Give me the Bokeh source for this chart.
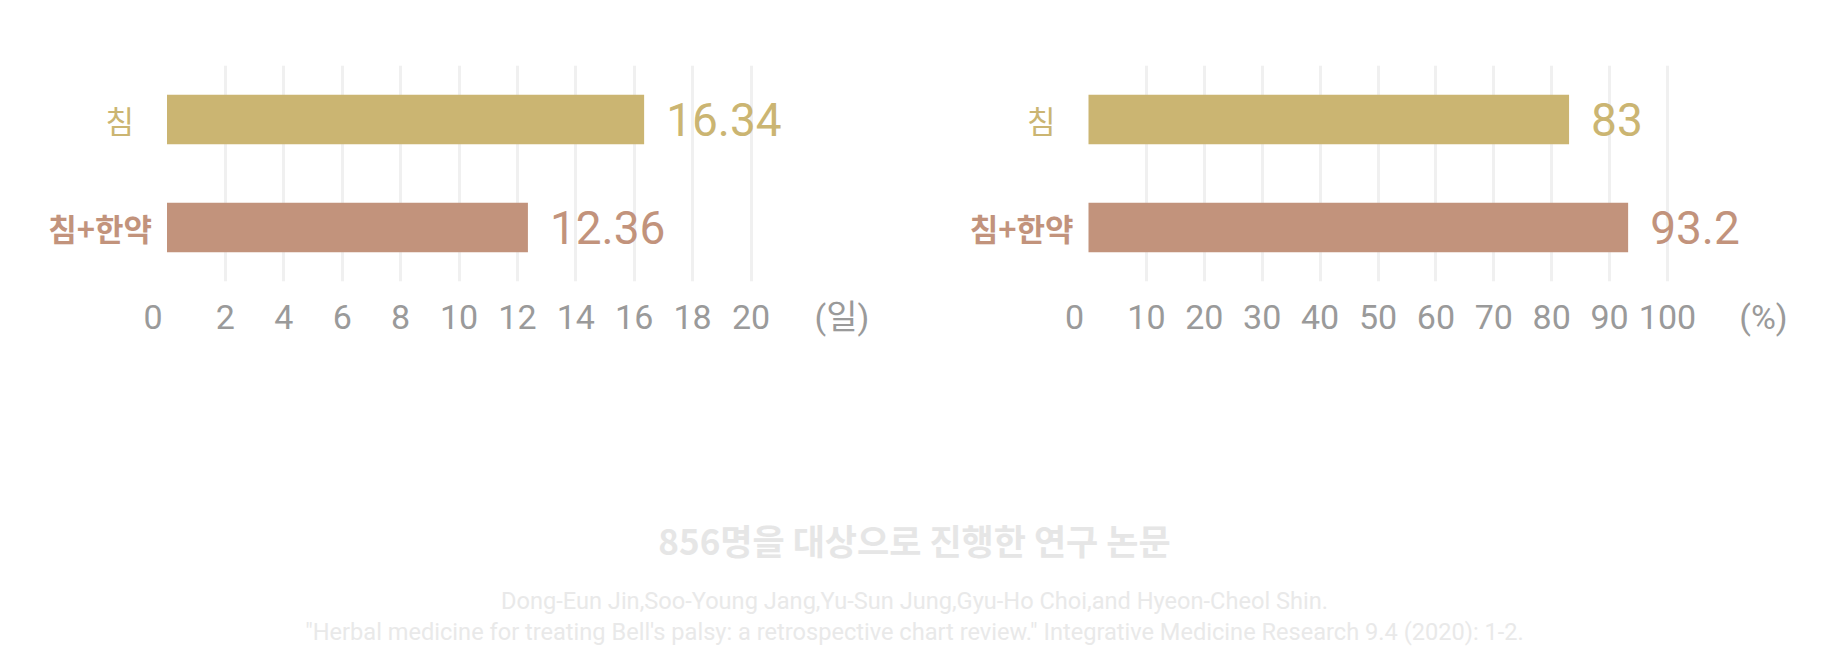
from bokeh.plotting import figure
from bokeh.models import ColumnDataSource, FactorRange, Range1d, FixedTicker, Label
from bokeh.layouts import column, row
from bokeh.embed import file_html
from bokeh.resources import INLINE
from bokeh.core.properties import value

# ---------------- data ----------------
categories = ["침", "침+한약"]
days_values = [16.34, 12.36]          # 치료 기간 (일)
rate_values = [83, 93.2]              # 치료율 (%)
day_ticks = [0, 2, 4, 6, 8, 10, 12, 14, 16, 18, 20]
rate_ticks = [0, 10, 20, 30, 40, 50, 60, 70, 80, 90, 100]
day_unit = "(일)"
rate_unit = "(%)"
title_text = "856명을 대상으로 진행한 연구 논문"
citation_lines = [
    "Dong-Eun Jin,Soo-Young Jang,Yu-Sun Jung,Gyu-Ho Choi,and Hyeon-Cheol Shin.",
    "\"Herbal medicine for treating Bell's palsy: a retrospective chart review.\" Integrative Medicine Research 9.4 (2020): 1-2.",
]

# ---------------- styles ----------------
GOLD = "#CBB572"
ROSE = "#C2937C"
bar_colors = [GOLD, ROSE]
cat_styles = ["normal", "bold"]
cat_offsets = [-33, -15]
TICK_COLOR = "#9A9A9A"
GRID_COLOR = "#F0F0F0"
LATIN = "Roboto, 'Noto Sans CJK KR', sans-serif"
HANGUL = "'Noto Sans CJK KR', sans-serif"

FIG_H = 340
TOP, FRAME_H = 65, 216


def make_chart(vals, ticks, unit, px_per_unit, zero_px, frame_left, frame_right,
               fig_x0, fig_w, unit_gap_px):
    x_start = (frame_left - zero_px) / px_per_unit
    x_end = (frame_right - zero_px) / px_per_unit
    p = figure(
        width=fig_w, height=FIG_H,
        x_range=Range1d(x_start, x_end),
        y_range=FactorRange(factors=categories[::-1]),
        output_backend="svg", toolbar_location=None,
        min_border_left=frame_left - fig_x0,
        min_border_right=fig_x0 + fig_w - frame_right,
        min_border_top=TOP,
        min_border_bottom=FIG_H - TOP - FRAME_H,
    )
    p.outline_line_color = None
    p.background_fill_color = "white"
    p.border_fill_color = "white"

    src = ColumnDataSource(dict(
        cat=categories,
        val=vals,
        label=[f"{v:g}" for v in vals],
        color=bar_colors,
        style=cat_styles,
        off=cat_offsets,
    ))

    p.hbar(y="cat", left=0, right="val", height=0.46, color="color", line_color=None, source=src)

    p.text(x="val", y="cat", text="label", source=src, x_offset=22,
           text_align="left", text_baseline="middle", text_color="color",
           text_font=value(LATIN), text_font_size="46px")

    p.text(x=0, y="cat", text="cat", source=src, x_offset="off",
           text_align="right", text_baseline="middle", text_color="color",
           text_font=value(HANGUL), text_font_size="31px", text_font_style="style")

    # grid
    p.ygrid.grid_line_color = None
    p.xgrid.ticker = FixedTicker(ticks=ticks[1:])
    p.xgrid.grid_line_color = GRID_COLOR
    p.xgrid.grid_line_width = 3

    # axis: zero label sits slightly left of the bar origin, unit label after the last tick
    zero_pos = -14 / px_per_unit
    unit_pos = ticks[-1] + unit_gap_px / px_per_unit
    ax = p.xaxis[0]
    ax.ticker = FixedTicker(ticks=[zero_pos] + ticks[1:] + [unit_pos])
    overrides = {t: str(t) for t in ticks[1:]}
    overrides[zero_pos] = "0"
    overrides[unit_pos] = unit
    ax.major_label_overrides = overrides
    ax.axis_line_color = None
    ax.major_tick_line_color = None
    ax.minor_tick_line_color = None
    ax.major_tick_out = 0
    ax.major_label_standoff = 15
    ax.major_label_text_font = LATIN
    ax.major_label_text_font_size = "34px"
    ax.major_label_text_color = TICK_COLOR
    p.yaxis.visible = False
    return p


p1 = make_chart(days_values, day_ticks, day_unit, 29.2, 166.5, 30, 900, 0, 915, 91)
p2 = make_chart(rate_values, rate_ticks, rate_unit, 5.79, 1088, 950, 1810, 915, 907, 96)

P3_W, P3_H = 1822, 320
p3 = figure(width=P3_W, height=P3_H, x_range=Range1d(0, P3_W), y_range=Range1d(0, P3_H),
            output_backend="svg", toolbar_location=None,
            min_border=0, min_border_left=0, min_border_right=0,
            min_border_top=0, min_border_bottom=0)
p3.axis.visible = False
p3.grid.visible = False
p3.outline_line_color = None
p3.background_fill_color = "white"
p3.border_fill_color = "white"

CENTER_X = 914
p3.add_layout(Label(x=CENTER_X, y=121, text=title_text, text_align="center",
                    text_baseline="middle", text_font=HANGUL, text_font_size="35px",
                    text_font_style="bold", text_color="#E6E6E6"))
for i, line in enumerate(citation_lines):
    p3.add_layout(Label(x=CENTER_X, y=60 - i * 31.7, text=line, text_align="center",
                        text_baseline="alphabetic", text_font=LATIN, text_font_size="23.6px",
                        text_color="#E9E9E9"))

layout = column(row(p1, p2), p3)
open("out.html", "w").write(file_html(layout, INLINE))
